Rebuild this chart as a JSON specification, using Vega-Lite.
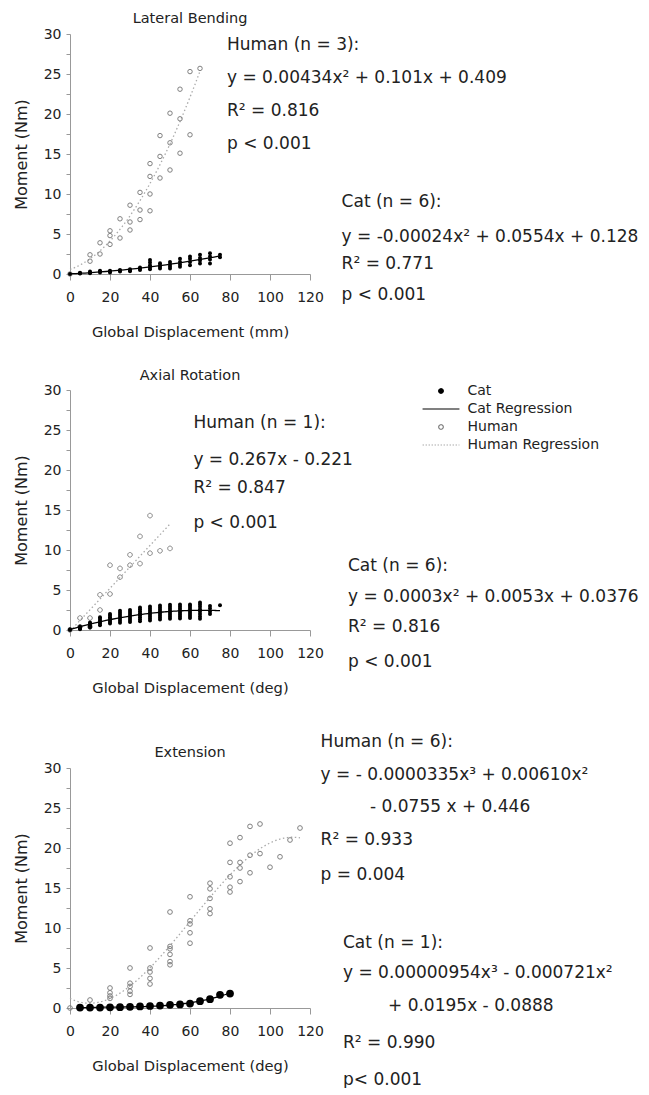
{
  "$schema": "https://vega.github.io/schema/vega-lite/v6.json",
  "padding": {"left": 13, "top": 10, "right": 0, "bottom": 0},
  "spacing": 28,
  "datasets": {
    "lat": [
      {"species": "Human", "x": 0, "y": 0}, {"species": "Human", "x": 10, "y": 2.4}, {"species": "Human", "x": 10, "y": 1.6},
      {"species": "Human", "x": 15, "y": 3.9}, {"species": "Human", "x": 15, "y": 2.5},
      {"species": "Human", "x": 20, "y": 5.4}, {"species": "Human", "x": 20, "y": 4.8}, {"species": "Human", "x": 20, "y": 3.7},
      {"species": "Human", "x": 25, "y": 6.9}, {"species": "Human", "x": 25, "y": 4.5},
      {"species": "Human", "x": 30, "y": 8.6}, {"species": "Human", "x": 30, "y": 6.5}, {"species": "Human", "x": 30, "y": 5.5},
      {"species": "Human", "x": 35, "y": 10.2}, {"species": "Human", "x": 35, "y": 8.0}, {"species": "Human", "x": 35, "y": 6.8},
      {"species": "Human", "x": 40, "y": 13.8}, {"species": "Human", "x": 40, "y": 12.2}, {"species": "Human", "x": 40, "y": 10.0}, {"species": "Human", "x": 40, "y": 7.9},
      {"species": "Human", "x": 45, "y": 17.3}, {"species": "Human", "x": 45, "y": 14.7}, {"species": "Human", "x": 45, "y": 12.0},
      {"species": "Human", "x": 50, "y": 20.1}, {"species": "Human", "x": 50, "y": 16.4}, {"species": "Human", "x": 50, "y": 13.0},
      {"species": "Human", "x": 55, "y": 23.1}, {"species": "Human", "x": 55, "y": 19.4}, {"species": "Human", "x": 55, "y": 15.1},
      {"species": "Human", "x": 60, "y": 25.3}, {"species": "Human", "x": 60, "y": 17.4}, {"species": "Human", "x": 65, "y": 25.7},
      {"species": "Cat", "x": 0, "y": 0},
      {"species": "Cat", "x": 5, "y": 0.05}, {"species": "Cat", "x": 5, "y": 0.1}, {"species": "Cat", "x": 5, "y": 0.15},
      {"species": "Cat", "x": 10, "y": 0.1}, {"species": "Cat", "x": 10, "y": 0.2}, {"species": "Cat", "x": 10, "y": 0.3},
      {"species": "Cat", "x": 15, "y": 0.2}, {"species": "Cat", "x": 15, "y": 0.3}, {"species": "Cat", "x": 15, "y": 0.4},
      {"species": "Cat", "x": 20, "y": 0.2}, {"species": "Cat", "x": 20, "y": 0.3}, {"species": "Cat", "x": 20, "y": 0.4},
      {"species": "Cat", "x": 25, "y": 0.3}, {"species": "Cat", "x": 25, "y": 0.4}, {"species": "Cat", "x": 25, "y": 0.5},
      {"species": "Cat", "x": 30, "y": 0.35}, {"species": "Cat", "x": 30, "y": 0.45}, {"species": "Cat", "x": 30, "y": 0.6},
      {"species": "Cat", "x": 35, "y": 0.5}, {"species": "Cat", "x": 35, "y": 0.65}, {"species": "Cat", "x": 35, "y": 0.8},
      {"species": "Cat", "x": 40, "y": 0.6}, {"species": "Cat", "x": 40, "y": 0.8}, {"species": "Cat", "x": 40, "y": 1.1}, {"species": "Cat", "x": 40, "y": 1.45}, {"species": "Cat", "x": 40, "y": 1.75},
      {"species": "Cat", "x": 45, "y": 0.7}, {"species": "Cat", "x": 45, "y": 0.9}, {"species": "Cat", "x": 45, "y": 1.1}, {"species": "Cat", "x": 45, "y": 1.35},
      {"species": "Cat", "x": 50, "y": 0.7}, {"species": "Cat", "x": 50, "y": 0.95}, {"species": "Cat", "x": 50, "y": 1.2}, {"species": "Cat", "x": 50, "y": 1.5},
      {"species": "Cat", "x": 55, "y": 0.9}, {"species": "Cat", "x": 55, "y": 1.2}, {"species": "Cat", "x": 55, "y": 1.5}, {"species": "Cat", "x": 55, "y": 1.9},
      {"species": "Cat", "x": 60, "y": 1.1}, {"species": "Cat", "x": 60, "y": 1.5}, {"species": "Cat", "x": 60, "y": 1.9}, {"species": "Cat", "x": 60, "y": 2.2},
      {"species": "Cat", "x": 65, "y": 1.3}, {"species": "Cat", "x": 65, "y": 1.7}, {"species": "Cat", "x": 65, "y": 2.0}, {"species": "Cat", "x": 65, "y": 2.4},
      {"species": "Cat", "x": 70, "y": 1.3}, {"species": "Cat", "x": 70, "y": 1.8}, {"species": "Cat", "x": 70, "y": 2.2}, {"species": "Cat", "x": 70, "y": 2.6},
      {"species": "Cat", "x": 75, "y": 2.1}, {"species": "Cat", "x": 75, "y": 2.4}
    ],
    "lat_t": [
      {"label": "Human (n = 3):", "tx": 78.5, "ty": 28.6},
      {"label": "y = 0.00434x² + 0.101x +  0.409", "tx": 78.5, "ty": 24.5},
      {"label": "R² = 0.816", "tx": 78.5, "ty": 20.4},
      {"label": "p < 0.001", "tx": 78.5, "ty": 16.25},
      {"label": "Cat (n = 6):", "tx": 135.8, "ty": 9.0},
      {"label": "y = -0.00024x² + 0.0554x + 0.128", "tx": 135.8, "ty": 4.6},
      {"label": "R² = 0.771", "tx": 135.8, "ty": 1.25},
      {"label": "p < 0.001", "tx": 135.8, "ty": -2.6}
    ],
    "axi": [
      {"species": "Human", "x": 0, "y": 0}, {"species": "Human", "x": 5, "y": 1.5}, {"species": "Human", "x": 5, "y": 0.4},
      {"species": "Human", "x": 10, "y": 1.5}, {"species": "Human", "x": 10, "y": 0.4},
      {"species": "Human", "x": 15, "y": 2.5}, {"species": "Human", "x": 15, "y": 4.4},
      {"species": "Human", "x": 20, "y": 4.5}, {"species": "Human", "x": 20, "y": 8.1},
      {"species": "Human", "x": 25, "y": 6.6}, {"species": "Human", "x": 25, "y": 7.7},
      {"species": "Human", "x": 30, "y": 8.1}, {"species": "Human", "x": 30, "y": 9.4},
      {"species": "Human", "x": 35, "y": 8.3}, {"species": "Human", "x": 35, "y": 11.7},
      {"species": "Human", "x": 40, "y": 14.3}, {"species": "Human", "x": 40, "y": 9.6},
      {"species": "Human", "x": 45, "y": 9.9}, {"species": "Human", "x": 50, "y": 10.2},
      {"species": "Cat", "x": 0, "y": 0}, {"species": "Cat", "x": 0, "y": 0.1},
      {"species": "Cat", "x": 5, "y": 0.1}, {"species": "Cat", "x": 5, "y": 0.2}, {"species": "Cat", "x": 5, "y": 0.3}, {"species": "Cat", "x": 5, "y": 0.45},
      {"species": "Cat", "x": 10, "y": 0.3}, {"species": "Cat", "x": 10, "y": 0.45}, {"species": "Cat", "x": 10, "y": 0.6}, {"species": "Cat", "x": 10, "y": 0.8}, {"species": "Cat", "x": 10, "y": 0.95},
      {"species": "Cat", "x": 15, "y": 0.6}, {"species": "Cat", "x": 15, "y": 0.8}, {"species": "Cat", "x": 15, "y": 1.0}, {"species": "Cat", "x": 15, "y": 1.2}, {"species": "Cat", "x": 15, "y": 1.4}, {"species": "Cat", "x": 15, "y": 1.6},
      {"species": "Cat", "x": 20, "y": 0.8}, {"species": "Cat", "x": 20, "y": 1.0}, {"species": "Cat", "x": 20, "y": 1.2}, {"species": "Cat", "x": 20, "y": 1.4}, {"species": "Cat", "x": 20, "y": 1.6}, {"species": "Cat", "x": 20, "y": 1.8}, {"species": "Cat", "x": 20, "y": 2.0},
      {"species": "Cat", "x": 25, "y": 0.9}, {"species": "Cat", "x": 25, "y": 1.15}, {"species": "Cat", "x": 25, "y": 1.4}, {"species": "Cat", "x": 25, "y": 1.65}, {"species": "Cat", "x": 25, "y": 1.9}, {"species": "Cat", "x": 25, "y": 2.15}, {"species": "Cat", "x": 25, "y": 2.4},
      {"species": "Cat", "x": 30, "y": 1.0}, {"species": "Cat", "x": 30, "y": 1.25}, {"species": "Cat", "x": 30, "y": 1.5}, {"species": "Cat", "x": 30, "y": 1.75}, {"species": "Cat", "x": 30, "y": 2.0}, {"species": "Cat", "x": 30, "y": 2.25}, {"species": "Cat", "x": 30, "y": 2.5},
      {"species": "Cat", "x": 35, "y": 1.1}, {"species": "Cat", "x": 35, "y": 1.35}, {"species": "Cat", "x": 35, "y": 1.6}, {"species": "Cat", "x": 35, "y": 1.85}, {"species": "Cat", "x": 35, "y": 2.1}, {"species": "Cat", "x": 35, "y": 2.35}, {"species": "Cat", "x": 35, "y": 2.6}, {"species": "Cat", "x": 35, "y": 2.8},
      {"species": "Cat", "x": 40, "y": 1.2}, {"species": "Cat", "x": 40, "y": 1.45}, {"species": "Cat", "x": 40, "y": 1.7}, {"species": "Cat", "x": 40, "y": 1.95}, {"species": "Cat", "x": 40, "y": 2.2}, {"species": "Cat", "x": 40, "y": 2.45}, {"species": "Cat", "x": 40, "y": 2.7}, {"species": "Cat", "x": 40, "y": 2.95},
      {"species": "Cat", "x": 45, "y": 1.3}, {"species": "Cat", "x": 45, "y": 1.55}, {"species": "Cat", "x": 45, "y": 1.8}, {"species": "Cat", "x": 45, "y": 2.05}, {"species": "Cat", "x": 45, "y": 2.3}, {"species": "Cat", "x": 45, "y": 2.55}, {"species": "Cat", "x": 45, "y": 2.8}, {"species": "Cat", "x": 45, "y": 3.05},
      {"species": "Cat", "x": 50, "y": 1.4}, {"species": "Cat", "x": 50, "y": 1.65}, {"species": "Cat", "x": 50, "y": 1.9}, {"species": "Cat", "x": 50, "y": 2.15}, {"species": "Cat", "x": 50, "y": 2.4}, {"species": "Cat", "x": 50, "y": 2.65}, {"species": "Cat", "x": 50, "y": 2.9}, {"species": "Cat", "x": 50, "y": 3.15},
      {"species": "Cat", "x": 55, "y": 1.45}, {"species": "Cat", "x": 55, "y": 1.7}, {"species": "Cat", "x": 55, "y": 1.95}, {"species": "Cat", "x": 55, "y": 2.2}, {"species": "Cat", "x": 55, "y": 2.45}, {"species": "Cat", "x": 55, "y": 2.7}, {"species": "Cat", "x": 55, "y": 2.95}, {"species": "Cat", "x": 55, "y": 3.2},
      {"species": "Cat", "x": 60, "y": 1.5}, {"species": "Cat", "x": 60, "y": 1.75}, {"species": "Cat", "x": 60, "y": 2.0}, {"species": "Cat", "x": 60, "y": 2.25}, {"species": "Cat", "x": 60, "y": 2.5}, {"species": "Cat", "x": 60, "y": 2.75}, {"species": "Cat", "x": 60, "y": 3.0}, {"species": "Cat", "x": 60, "y": 3.2},
      {"species": "Cat", "x": 65, "y": 1.4}, {"species": "Cat", "x": 65, "y": 1.7}, {"species": "Cat", "x": 65, "y": 2.0}, {"species": "Cat", "x": 65, "y": 2.3}, {"species": "Cat", "x": 65, "y": 2.6}, {"species": "Cat", "x": 65, "y": 2.9}, {"species": "Cat", "x": 65, "y": 3.2}, {"species": "Cat", "x": 65, "y": 3.45},
      {"species": "Cat", "x": 70, "y": 2.0}, {"species": "Cat", "x": 70, "y": 2.3}, {"species": "Cat", "x": 70, "y": 2.7}, {"species": "Cat", "x": 70, "y": 3.0},
      {"species": "Cat", "x": 75, "y": 3.1}
    ],
    "axi_t": [
      {"label": "Human (n = 1):", "tx": 61.7, "ty": 25.9},
      {"label": "y = 0.267x - 0.221", "tx": 61.7, "ty": 21.3},
      {"label": "R² = 0.847", "tx": 61.7, "ty": 17.8},
      {"label": "p < 0.001", "tx": 61.7, "ty": 13.4},
      {"label": "Cat (n = 6):", "tx": 139, "ty": 7.95},
      {"label": "y = 0.0003x² + 0.0053x + 0.0376", "tx": 139, "ty": 4.08},
      {"label": "R² = 0.816", "tx": 139, "ty": 0.34},
      {"label": "p < 0.001", "tx": 139, "ty": -4.0}
    ],
    "ext": [
      {"species": "Human", "x": 0, "y": 0}, {"species": "Human", "x": 10, "y": 1.0},
      {"species": "Human", "x": 20, "y": 2.5}, {"species": "Human", "x": 20, "y": 1.9}, {"species": "Human", "x": 20, "y": 1.5}, {"species": "Human", "x": 20, "y": 1.2},
      {"species": "Human", "x": 30, "y": 5.0}, {"species": "Human", "x": 30, "y": 3.1}, {"species": "Human", "x": 30, "y": 2.7}, {"species": "Human", "x": 30, "y": 2.1}, {"species": "Human", "x": 30, "y": 1.7},
      {"species": "Human", "x": 40, "y": 7.5}, {"species": "Human", "x": 40, "y": 5.0}, {"species": "Human", "x": 40, "y": 4.5}, {"species": "Human", "x": 40, "y": 3.7}, {"species": "Human", "x": 40, "y": 3.0},
      {"species": "Human", "x": 50, "y": 12.0}, {"species": "Human", "x": 50, "y": 7.7}, {"species": "Human", "x": 50, "y": 7.4}, {"species": "Human", "x": 50, "y": 6.7}, {"species": "Human", "x": 50, "y": 5.8}, {"species": "Human", "x": 50, "y": 5.4},
      {"species": "Human", "x": 60, "y": 13.9}, {"species": "Human", "x": 60, "y": 10.9}, {"species": "Human", "x": 60, "y": 10.5}, {"species": "Human", "x": 60, "y": 9.4}, {"species": "Human", "x": 60, "y": 8.1},
      {"species": "Human", "x": 70, "y": 15.6}, {"species": "Human", "x": 70, "y": 14.9}, {"species": "Human", "x": 70, "y": 13.7}, {"species": "Human", "x": 70, "y": 12.4}, {"species": "Human", "x": 70, "y": 11.8},
      {"species": "Human", "x": 80, "y": 20.6}, {"species": "Human", "x": 80, "y": 18.2}, {"species": "Human", "x": 80, "y": 16.4}, {"species": "Human", "x": 80, "y": 15.1}, {"species": "Human", "x": 80, "y": 14.5},
      {"species": "Human", "x": 85, "y": 21.3}, {"species": "Human", "x": 85, "y": 18.2}, {"species": "Human", "x": 85, "y": 17.5}, {"species": "Human", "x": 85, "y": 15.8},
      {"species": "Human", "x": 90, "y": 22.7}, {"species": "Human", "x": 90, "y": 19.1}, {"species": "Human", "x": 90, "y": 16.9},
      {"species": "Human", "x": 95, "y": 23.0}, {"species": "Human", "x": 95, "y": 19.3},
      {"species": "Human", "x": 100, "y": 17.6}, {"species": "Human", "x": 105, "y": 18.9}, {"species": "Human", "x": 110, "y": 21.0}, {"species": "Human", "x": 115, "y": 22.5},
      {"species": "Cat", "x": 5, "y": 0.05}, {"species": "Cat", "x": 10, "y": 0.05}, {"species": "Cat", "x": 15, "y": 0.05}, {"species": "Cat", "x": 20, "y": 0.08},
      {"species": "Cat", "x": 25, "y": 0.1}, {"species": "Cat", "x": 30, "y": 0.15}, {"species": "Cat", "x": 35, "y": 0.2}, {"species": "Cat", "x": 40, "y": 0.25},
      {"species": "Cat", "x": 45, "y": 0.3}, {"species": "Cat", "x": 50, "y": 0.4}, {"species": "Cat", "x": 55, "y": 0.45}, {"species": "Cat", "x": 60, "y": 0.55},
      {"species": "Cat", "x": 65, "y": 0.85}, {"species": "Cat", "x": 70, "y": 1.1}, {"species": "Cat", "x": 75, "y": 1.65}, {"species": "Cat", "x": 80, "y": 1.8}
    ],
    "ext_t": [
      {"label": "Human (n = 6):", "tx": 125.3, "ty": 33.3},
      {"label": "y =  - 0.0000335x³ + 0.00610x²", "tx": 125.3, "ty": 29.1},
      {"label": "- 0.0755 x + 0.446", "tx": 150, "ty": 25.1},
      {"label": "R² = 0.933", "tx": 125.3, "ty": 21.0},
      {"label": "p = 0.004", "tx": 125.3, "ty": 16.6},
      {"label": "Cat (n = 1):", "tx": 136.5, "ty": 8.1},
      {"label": "y =  0.00000954x³ - 0.000721x²", "tx": 136.5, "ty": 4.4},
      {"label": "+ 0.0195x - 0.0888", "tx": 159, "ty": 0.2},
      {"label": "R² = 0.990", "tx": 136.5, "ty": -4.4},
      {"label": "p< 0.001", "tx": 136.5, "ty": -9.0}
    ]
  },
  "vconcat": [
    {
      "title": {"text": "Lateral Bending", "offset": 1},
      "width": 240, "height": 240,
      "data": {"name": "lat"},
      "layer": [
        {"transform": [{"filter": "datum.species === 'Human'"}, {"regression": "y", "on": "x", "method": "poly", "order": 2}],
         "mark": {"type": "line", "color": "#aaaaaa", "strokeDash": [1.5, 2.5], "strokeWidth": 1.3},
         "encoding": {"x": {"field": "x", "type": "quantitative", "scale": {"domain": [0, 120], "nice": false}, "axis": {"values": [0, 20, 40, 60, 80, 100, 120], "labelOverlap": false, "labelSeparation": -30}, "title": "Global Displacement (mm)"},
                      "y": {"field": "y", "type": "quantitative", "scale": {"domain": [0, 30], "nice": false}, "axis": {"values": [0, 2.5, 5, 7.5, 10, 12.5, 15, 17.5, 20, 22.5, 25, 27.5, 30], "labelExpr": "datum.value % 5 === 0 ? datum.label : ''", "labelOverlap": false, "labelSeparation": -30}, "title": "Moment (Nm)"}}},
        {"transform": [{"filter": "datum.species === 'Human'"}],
         "mark": {"type": "point", "filled": false, "color": "#808080", "size": 20, "strokeWidth": 1, "opacity": 1},
         "encoding": {"x": {"field": "x", "type": "quantitative", "scale": {"domain": [0, 120], "nice": false}, "axis": {"values": [0, 20, 40, 60, 80, 100, 120], "labelOverlap": false, "labelSeparation": -30}, "title": "Global Displacement (mm)"},
                      "y": {"field": "y", "type": "quantitative", "scale": {"domain": [0, 30], "nice": false}, "axis": {"values": [0, 2.5, 5, 7.5, 10, 12.5, 15, 17.5, 20, 22.5, 25, 27.5, 30], "labelExpr": "datum.value % 5 === 0 ? datum.label : ''", "labelOverlap": false, "labelSeparation": -30}, "title": "Moment (Nm)"}}},
        {"transform": [{"filter": "datum.species === 'Cat'"}],
         "mark": {"type": "circle", "color": "#000000", "size": 16, "opacity": 1},
         "encoding": {"x": {"field": "x", "type": "quantitative", "scale": {"domain": [0, 120], "nice": false}, "axis": {"values": [0, 20, 40, 60, 80, 100, 120], "labelOverlap": false, "labelSeparation": -30}, "title": "Global Displacement (mm)"},
                      "y": {"field": "y", "type": "quantitative", "scale": {"domain": [0, 30], "nice": false}, "axis": {"values": [0, 2.5, 5, 7.5, 10, 12.5, 15, 17.5, 20, 22.5, 25, 27.5, 30], "labelExpr": "datum.value % 5 === 0 ? datum.label : ''", "labelOverlap": false, "labelSeparation": -30}, "title": "Moment (Nm)"}}},
        {"transform": [{"filter": "datum.species === 'Cat'"}, {"regression": "y", "on": "x", "method": "poly", "order": 2}],
         "mark": {"type": "line", "color": "#000000", "strokeWidth": 1.3},
         "encoding": {"x": {"field": "x", "type": "quantitative", "scale": {"domain": [0, 120], "nice": false}, "axis": {"values": [0, 20, 40, 60, 80, 100, 120], "labelOverlap": false, "labelSeparation": -30}, "title": "Global Displacement (mm)"},
                      "y": {"field": "y", "type": "quantitative", "scale": {"domain": [0, 30], "nice": false}, "axis": {"values": [0, 2.5, 5, 7.5, 10, 12.5, 15, 17.5, 20, 22.5, 25, 27.5, 30], "labelExpr": "datum.value % 5 === 0 ? datum.label : ''", "labelOverlap": false, "labelSeparation": -30}, "title": "Moment (Nm)"}}},
        {"data": {"name": "lat_t"},
         "mark": {"type": "text", "align": "left", "baseline": "middle", "fontSize": 17, "color": "#222222"},
         "encoding": {"x": {"field": "tx", "type": "quantitative", "scale": {"domain": [0, 120], "nice": false}, "axis": {"values": [0, 20, 40, 60, 80, 100, 120], "labelOverlap": false, "labelSeparation": -30}, "title": "Global Displacement (mm)"},
                      "y": {"field": "ty", "type": "quantitative", "scale": {"domain": [0, 30], "nice": false}, "axis": {"values": [0, 2.5, 5, 7.5, 10, 12.5, 15, 17.5, 20, 22.5, 25, 27.5, 30], "labelExpr": "datum.value % 5 === 0 ? datum.label : ''", "labelOverlap": false, "labelSeparation": -30}, "title": "Moment (Nm)"},
                      "text": {"field": "label"}}}
      ]
    },
    {
      "spacing": 37,
      "vconcat": [
        {
          "title": {"text": "Axial Rotation", "offset": 0},
          "width": 240, "height": 240,
          "data": {"name": "axi"},
          "layer": [
            {"transform": [{"filter": "datum.species === 'Human'"}, {"regression": "y", "on": "x", "method": "linear"}],
             "mark": {"type": "line", "color": "#aaaaaa", "strokeDash": [1.5, 2.5], "strokeWidth": 1.3},
             "encoding": {"x": {"field": "x", "type": "quantitative", "scale": {"domain": [0, 120], "nice": false}, "axis": {"values": [0, 20, 40, 60, 80, 100, 120], "labelOverlap": false, "labelSeparation": -30}, "title": "Global Displacement (deg)"},
                          "y": {"field": "y", "type": "quantitative", "scale": {"domain": [0, 30], "nice": false}, "axis": {"values": [0, 2.5, 5, 7.5, 10, 12.5, 15, 17.5, 20, 22.5, 25, 27.5, 30], "labelExpr": "datum.value % 5 === 0 ? datum.label : ''", "labelOverlap": false, "labelSeparation": -30}, "title": "Moment (Nm)"}}},
            {"transform": [{"filter": "datum.species === 'Human'"}],
             "mark": {"type": "point", "filled": false, "size": 85, "strokeWidth": 1, "opacity": 1},
             "encoding": {"x": {"field": "x", "type": "quantitative", "scale": {"domain": [0, 120], "nice": false}, "axis": {"values": [0, 20, 40, 60, 80, 100, 120], "labelOverlap": false, "labelSeparation": -30}, "title": "Global Displacement (deg)"},
                          "y": {"field": "y", "type": "quantitative", "scale": {"domain": [0, 30], "nice": false}, "axis": {"values": [0, 2.5, 5, 7.5, 10, 12.5, 15, 17.5, 20, 22.5, 25, 27.5, 30], "labelExpr": "datum.value % 5 === 0 ? datum.label : ''", "labelOverlap": false, "labelSeparation": -30}, "title": "Moment (Nm)"},
                          "stroke": {"field": "species", "type": "nominal",
                                     "scale": {"domain": ["Cat", "Cat Regression", "Human", "Human Regression"], "range": ["#000000", "#000000", "#808080", "#aaaaaa"]},
                                     "legend": {"orient": "none", "legendX": 364, "legendY": 350, "title": null, "symbolSize": 85, "symbolStrokeWidth": 1.2, "labelFontSize": 14, "labelColor": "#222222", "labelOffset": 19.5, "rowPadding": 4, "labelFont": "DejaVu Sans"}},
                          "fill": {"field": "species", "type": "nominal",
                                   "scale": {"domain": ["Cat", "Cat Regression", "Human", "Human Regression"], "range": ["#000000", "transparent", "transparent", "transparent"]},
                                   "legend": {"orient": "none", "legendX": 364, "legendY": 350, "title": null, "symbolSize": 85, "symbolStrokeWidth": 1.2, "labelFontSize": 14, "labelColor": "#222222", "labelOffset": 19.5, "rowPadding": 4, "labelFont": "DejaVu Sans"}},
                          "shape": {"field": "species", "type": "nominal",
                                    "scale": {"domain": ["Cat", "Cat Regression", "Human", "Human Regression"],
                                              "range": ["M-0.5,0a0.5,0.5 0 1,0 1,0a0.5,0.5 0 1,0 -1,0", "M-4,0H4", "M-0.5,0a0.5,0.5 0 1,0 1,0a0.5,0.5 0 1,0 -1,0", "M-4,0H4"]},
                                    "legend": {"orient": "none", "legendX": 364, "legendY": 350, "title": null, "symbolSize": 85, "symbolStrokeWidth": 1.2, "labelFontSize": 14, "labelColor": "#222222", "labelOffset": 19.5, "rowPadding": 4, "labelFont": "DejaVu Sans"}},
                          "strokeDash": {"field": "species", "type": "nominal",
                                         "scale": {"domain": ["Cat", "Cat Regression", "Human", "Human Regression"], "range": [[1, 0], [1, 0], [1, 0], [1.5, 1.5]]},
                                         "legend": {"orient": "none", "legendX": 364, "legendY": 350, "title": null, "symbolSize": 85, "symbolStrokeWidth": 1.2, "labelFontSize": 14, "labelColor": "#222222", "labelOffset": 19.5, "rowPadding": 4, "labelFont": "DejaVu Sans"}}}},
            {"transform": [{"filter": "datum.species === 'Cat'"}],
             "mark": {"type": "circle", "color": "#000000", "size": 16, "opacity": 1},
             "encoding": {"x": {"field": "x", "type": "quantitative", "scale": {"domain": [0, 120], "nice": false}, "axis": {"values": [0, 20, 40, 60, 80, 100, 120], "labelOverlap": false, "labelSeparation": -30}, "title": "Global Displacement (deg)"},
                          "y": {"field": "y", "type": "quantitative", "scale": {"domain": [0, 30], "nice": false}, "axis": {"values": [0, 2.5, 5, 7.5, 10, 12.5, 15, 17.5, 20, 22.5, 25, 27.5, 30], "labelExpr": "datum.value % 5 === 0 ? datum.label : ''", "labelOverlap": false, "labelSeparation": -30}, "title": "Moment (Nm)"}}},
            {"transform": [{"filter": "datum.species === 'Cat'"}, {"regression": "y", "on": "x", "method": "poly", "order": 2}],
             "mark": {"type": "line", "color": "#000000", "strokeWidth": 1.3},
             "encoding": {"x": {"field": "x", "type": "quantitative", "scale": {"domain": [0, 120], "nice": false}, "axis": {"values": [0, 20, 40, 60, 80, 100, 120], "labelOverlap": false, "labelSeparation": -30}, "title": "Global Displacement (deg)"},
                          "y": {"field": "y", "type": "quantitative", "scale": {"domain": [0, 30], "nice": false}, "axis": {"values": [0, 2.5, 5, 7.5, 10, 12.5, 15, 17.5, 20, 22.5, 25, 27.5, 30], "labelExpr": "datum.value % 5 === 0 ? datum.label : ''", "labelOverlap": false, "labelSeparation": -30}, "title": "Moment (Nm)"}}},
            {"data": {"name": "axi_t"},
             "mark": {"type": "text", "align": "left", "baseline": "middle", "fontSize": 17, "color": "#222222"},
             "encoding": {"x": {"field": "tx", "type": "quantitative", "scale": {"domain": [0, 120], "nice": false}, "axis": {"values": [0, 20, 40, 60, 80, 100, 120], "labelOverlap": false, "labelSeparation": -30}, "title": "Global Displacement (deg)"},
                          "y": {"field": "ty", "type": "quantitative", "scale": {"domain": [0, 30], "nice": false}, "axis": {"values": [0, 2.5, 5, 7.5, 10, 12.5, 15, 17.5, 20, 22.5, 25, 27.5, 30], "labelExpr": "datum.value % 5 === 0 ? datum.label : ''", "labelOverlap": false, "labelSeparation": -30}, "title": "Moment (Nm)"},
                          "text": {"field": "label"}}}
          ]
        },
        {
          "title": {"text": "Extension", "offset": -27.5},
          "width": 240, "height": 240,
          "data": {"name": "ext"},
          "layer": [
            {"transform": [{"filter": "datum.species === 'Human'"}, {"regression": "y", "on": "x", "method": "poly", "order": 3}],
             "mark": {"type": "line", "color": "#aaaaaa", "strokeDash": [1.5, 2.5], "strokeWidth": 1.3},
             "encoding": {"x": {"field": "x", "type": "quantitative", "scale": {"domain": [0, 120], "nice": false}, "axis": {"values": [0, 20, 40, 60, 80, 100, 120], "labelOverlap": false, "labelSeparation": -30}, "title": "Global Displacement (deg)"},
                          "y": {"field": "y", "type": "quantitative", "scale": {"domain": [0, 30], "nice": false}, "axis": {"values": [0, 2.5, 5, 7.5, 10, 12.5, 15, 17.5, 20, 22.5, 25, 27.5, 30], "labelExpr": "datum.value % 5 === 0 ? datum.label : ''", "labelOverlap": false, "labelSeparation": -30}, "title": "Moment (Nm)"}}},
            {"transform": [{"filter": "datum.species === 'Human'"}],
             "mark": {"type": "point", "filled": false, "color": "#808080", "size": 22, "strokeWidth": 1, "opacity": 1},
             "encoding": {"x": {"field": "x", "type": "quantitative", "scale": {"domain": [0, 120], "nice": false}, "axis": {"values": [0, 20, 40, 60, 80, 100, 120], "labelOverlap": false, "labelSeparation": -30}, "title": "Global Displacement (deg)"},
                          "y": {"field": "y", "type": "quantitative", "scale": {"domain": [0, 30], "nice": false}, "axis": {"values": [0, 2.5, 5, 7.5, 10, 12.5, 15, 17.5, 20, 22.5, 25, 27.5, 30], "labelExpr": "datum.value % 5 === 0 ? datum.label : ''", "labelOverlap": false, "labelSeparation": -30}, "title": "Moment (Nm)"}}},
            {"transform": [{"filter": "datum.species === 'Cat'"}, {"regression": "y", "on": "x", "method": "poly", "order": 3}],
             "mark": {"type": "line", "color": "#000000", "strokeWidth": 1.3},
             "encoding": {"x": {"field": "x", "type": "quantitative", "scale": {"domain": [0, 120], "nice": false}, "axis": {"values": [0, 20, 40, 60, 80, 100, 120], "labelOverlap": false, "labelSeparation": -30}, "title": "Global Displacement (deg)"},
                          "y": {"field": "y", "type": "quantitative", "scale": {"domain": [0, 30], "nice": false}, "axis": {"values": [0, 2.5, 5, 7.5, 10, 12.5, 15, 17.5, 20, 22.5, 25, 27.5, 30], "labelExpr": "datum.value % 5 === 0 ? datum.label : ''", "labelOverlap": false, "labelSeparation": -30}, "title": "Moment (Nm)"}}},
            {"transform": [{"filter": "datum.species === 'Cat'"}],
             "mark": {"type": "circle", "color": "#000000", "size": 60, "opacity": 1},
             "encoding": {"x": {"field": "x", "type": "quantitative", "scale": {"domain": [0, 120], "nice": false}, "axis": {"values": [0, 20, 40, 60, 80, 100, 120], "labelOverlap": false, "labelSeparation": -30}, "title": "Global Displacement (deg)"},
                          "y": {"field": "y", "type": "quantitative", "scale": {"domain": [0, 30], "nice": false}, "axis": {"values": [0, 2.5, 5, 7.5, 10, 12.5, 15, 17.5, 20, 22.5, 25, 27.5, 30], "labelExpr": "datum.value % 5 === 0 ? datum.label : ''", "labelOverlap": false, "labelSeparation": -30}, "title": "Moment (Nm)"}}},
            {"data": {"name": "ext_t"},
             "mark": {"type": "text", "align": "left", "baseline": "middle", "fontSize": 17, "color": "#222222"},
             "encoding": {"x": {"field": "tx", "type": "quantitative", "scale": {"domain": [0, 120], "nice": false}, "axis": {"values": [0, 20, 40, 60, 80, 100, 120], "labelOverlap": false, "labelSeparation": -30}, "title": "Global Displacement (deg)"},
                          "y": {"field": "ty", "type": "quantitative", "scale": {"domain": [0, 30], "nice": false}, "axis": {"values": [0, 2.5, 5, 7.5, 10, 12.5, 15, 17.5, 20, 22.5, 25, 27.5, 30], "labelExpr": "datum.value % 5 === 0 ? datum.label : ''", "labelOverlap": false, "labelSeparation": -30}, "title": "Moment (Nm)"},
                          "text": {"field": "label"}}}
          ]
        }
      ]
    }
  ],
  "config": {
    "font": "DejaVu Sans",
    "background": "#ffffff",
    "view": {"stroke": null},
    "axis": {"grid": false, "domainColor": "#999999", "tickColor": "#999999", "labelColor": "#222222", "titleColor": "#222222",
             "labelFontSize": 14, "titleFontSize": 14.7, "titleFontWeight": "normal", "labelFont": "DejaVu Sans", "titleFont": "DejaVu Sans", "labelOverlap": false},
    "axisX": {"tickSize": 6, "labelPadding": 10, "titlePadding": 20, "labelFlush": false},
    "axisY": {"tickSize": 4, "labelPadding": 5, "titlePadding": 14, "titleFontSize": 16, "labelFlush": false},
    "title": {"fontSize": 14.5, "fontWeight": "normal", "font": "DejaVu Sans", "frame": "group", "color": "#222222"},
    "text": {"font": "DejaVu Sans"}
  }
}
